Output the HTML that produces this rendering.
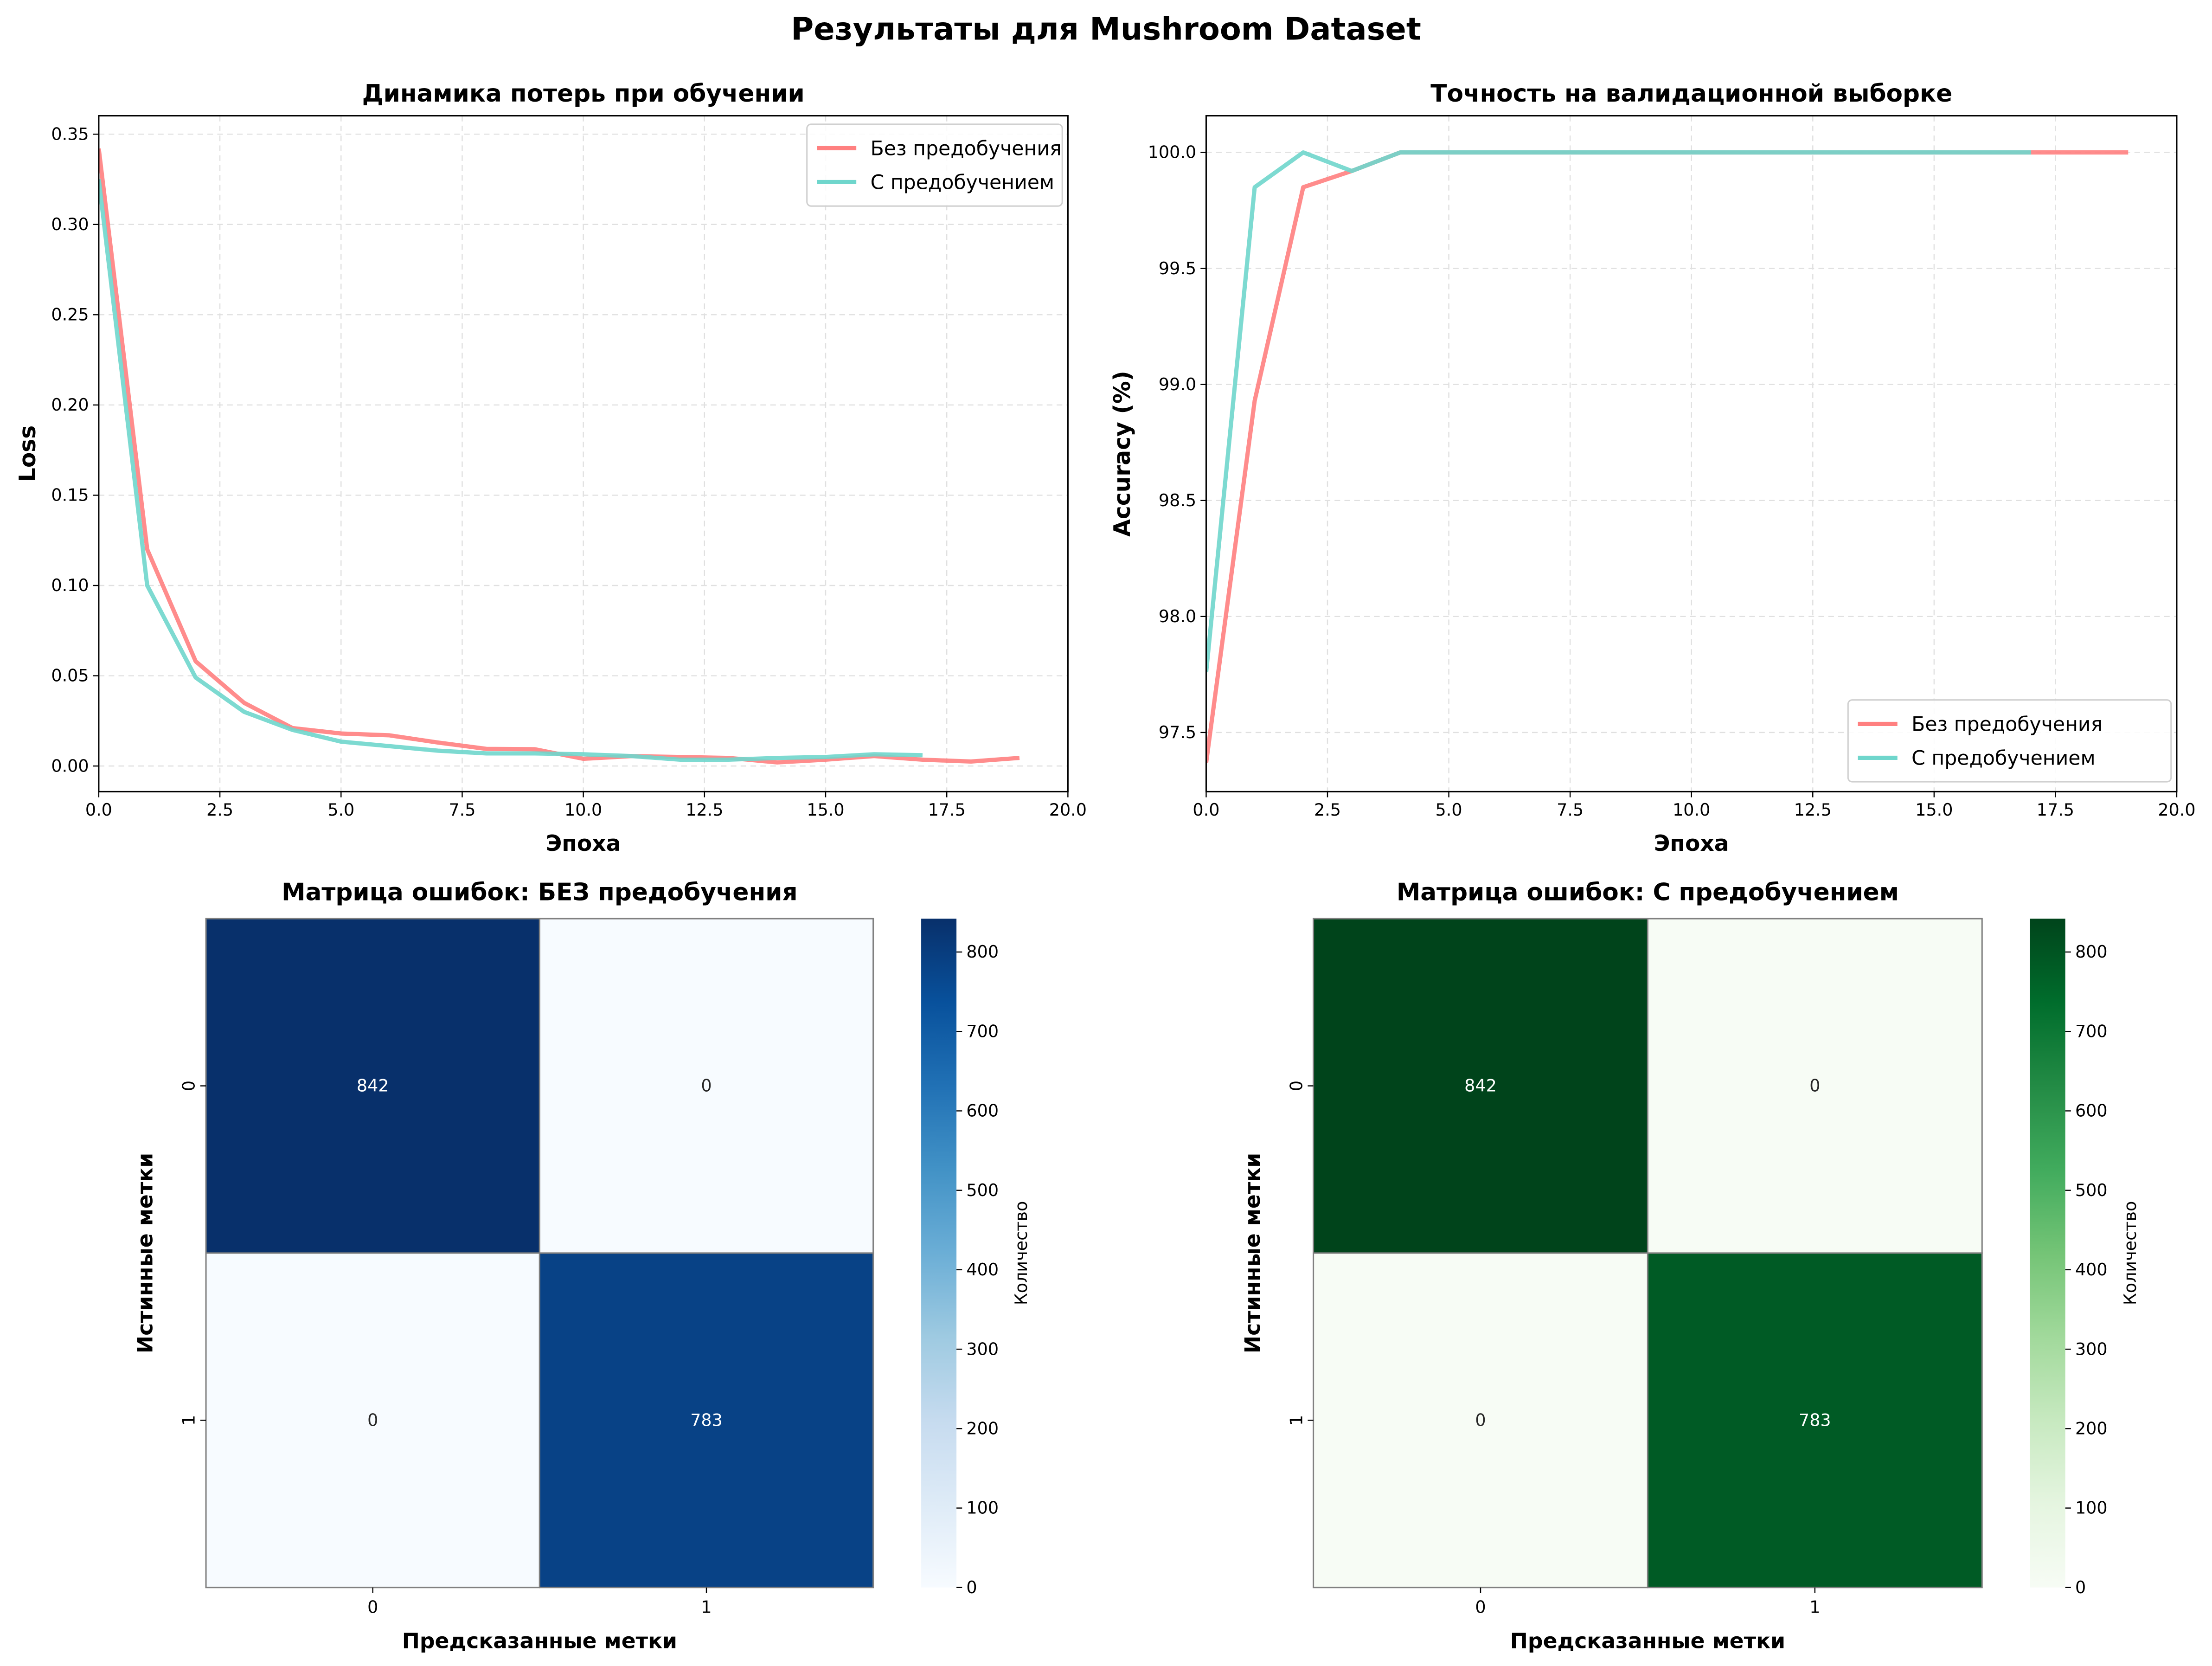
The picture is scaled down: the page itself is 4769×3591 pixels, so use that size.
<!DOCTYPE html>
<html><head><meta charset="utf-8"><style>
html,body{margin:0;padding:0;background:#fff}
svg{display:block;font-family:"DejaVu Sans","Liberation Sans",sans-serif}
</style></head><body>
<svg id="fig" width="4769" height="3591" viewBox="0 0 1568 1180.6" xmlns="http://www.w3.org/2000/svg">
<defs>
<linearGradient id="gBlues" x1="0" y1="1" x2="0" y2="0">
<stop offset="0" stop-color="#f7fbff"/><stop offset="0.125" stop-color="#deebf7"/><stop offset="0.25" stop-color="#c6dbef"/><stop offset="0.375" stop-color="#9ecae1"/><stop offset="0.5" stop-color="#6baed6"/><stop offset="0.625" stop-color="#4292c6"/><stop offset="0.75" stop-color="#2171b5"/><stop offset="0.875" stop-color="#08519c"/><stop offset="1" stop-color="#08306b"/>
</linearGradient>
<linearGradient id="gGreens" x1="0" y1="1" x2="0" y2="0">
<stop offset="0" stop-color="#f7fcf5"/><stop offset="0.125" stop-color="#e5f5e0"/><stop offset="0.25" stop-color="#c7e9c0"/><stop offset="0.375" stop-color="#a1d99b"/><stop offset="0.5" stop-color="#74c476"/><stop offset="0.625" stop-color="#41ab5d"/><stop offset="0.75" stop-color="#238b45"/><stop offset="0.875" stop-color="#006d2c"/><stop offset="1" stop-color="#00441b"/>
</linearGradient>
</defs>
<text x="784" y="28" text-anchor="middle" font-size="22" font-weight="bold">Результаты для Mushroom Dataset</text>
</svg>
<script>
const epochsLossRed=[0,1,2,3,4,5,6,7,8,9,10,11,12,13,14,15,16,17,18,19];
const lossRed=[0.342,0.12,0.058,0.035,0.021,0.018,0.017,0.013,0.0095,0.0093,0.004,0.0055,0.005,0.0045,0.002,0.0035,0.0055,0.0035,0.0025,0.0045];
const epochsTeal=[0,1,2,3,4,5,6,7,8,9,10,11,12,13,14,15,16,17];
const lossTeal=[0.325,0.10,0.049,0.030,0.020,0.0135,0.011,0.0085,0.007,0.007,0.0065,0.0055,0.0035,0.0035,0.0045,0.005,0.0065,0.006];
const accRed=[97.37,98.93,99.85,99.92,100,100,100,100,100,100,100,100,100,100,100,100,100,100,100,100];
const accTeal=[97.76,99.85,100,99.92,100,100,100,100,100,100,100,100,100,100,100,100,100,100];
const xTicks=[0,2.5,5,7.5,10,12.5,15,17.5,20];
const xTickLabels=["0.0","2.5","5.0","7.5","10.0","12.5","15.0","17.5","20.0"];
const lossTicks=[0,0.05,0.1,0.15,0.2,0.25,0.3,0.35];
const lossTickLabels=["0.00","0.05","0.10","0.15","0.20","0.25","0.30","0.35"];
const accTicks=[97.5,98,98.5,99,99.5,100];
const accTickLabels=["97.5","98.0","98.5","99.0","99.5","100.0"];
const cmNo=[[842,0],[0,783]];
const cmYes=[[842,0],[0,783]];
const cbTicks=[0,100,200,300,400,500,600,700,800];
const classLabels=["0","1"];

const svg=document.getElementById('fig');
const NS="http://www.w3.org/2000/svg";
function el(tag,attrs,parent,text){const e=document.createElementNS(NS,tag);for(const k in attrs)e.setAttribute(k,attrs[k]);if(text!==undefined)e.textContent=text;(parent||svg).appendChild(e);return e;}
const RED="#ff8080",TEAL="#6fd6cc";

function linePanel(cfg){
  const g=el('g',{});
  
  
  const {x0,x1,y0,y1,xmin,xmax,ymin,ymax}=cfg;
  const sx=v=>x0+(v-xmin)/(xmax-xmin)*(x1-x0);
  const sy=v=>y1-(v-ymin)/(ymax-ymin)*(y1-y0);
  xTicks.forEach((t,i)=>{
    const gl=el('line',{x1:sx(t),x2:sx(t),y1:y0,y2:y1,stroke:"#e0e0e0","stroke-width":0.8,"stroke-dasharray":"4,3"},g);
    
    
    el('line',{x1:sx(t),x2:sx(t),y1:y1,y2:y1+4,stroke:"#000","stroke-width":0.8},g);
    const tl=el('text',{x:sx(t),y:y1+17,"text-anchor":"middle","font-size":12},g,xTickLabels[i]);
    
    
  });
  cfg.yTicks.forEach((t,i)=>{
    const gl=el('line',{x1:x0,x2:x1,y1:sy(t),y2:sy(t),stroke:"#e0e0e0","stroke-width":0.8,"stroke-dasharray":"4,3"},g);
    
    
    el('line',{x1:x0-4,x2:x0,y1:sy(t),y2:sy(t),stroke:"#000","stroke-width":0.8},g);
    const tl=el('text',{x:x0-7,y:sy(t)+4,"text-anchor":"end","font-size":12},g,cfg.yTickLabels[i]);
    
    
  });
  const clip='clip'+cfg.name;
  const cp=el('clipPath',{id:clip},g);el('rect',{x:x0,y:y0,width:x1-x0,height:y1-y0},cp);
  cfg.series.forEach(s=>{
    const d=s.x.map((v,i)=>(i?'L':'M')+sx(v).toFixed(2)+','+sy(s.y[i]).toFixed(2)).join(' ');
    const p=el('path',{d,fill:"none",stroke:s.color,"stroke-width":3,"stroke-opacity":0.9,"stroke-linejoin":"round","clip-path":`url(#${clip})`},g);
    
    
  });
  const fr=el('rect',{x:x0,y:y0,width:x1-x0,height:y1-y0,fill:"none",stroke:"#000","stroke-width":1},g);
  
  
  const t=el('text',{x:(x0+x1)/2,y:y0-10,"text-anchor":"middle","font-size":17,"font-weight":"bold"},g,cfg.title);
  
  
  const xl=el('text',{x:(x0+x1)/2,y:y1+42,"text-anchor":"middle","font-size":15.5,"font-weight":"bold"},g,"Эпоха");
  
  
  const yl=el('text',{x:0,y:0,"text-anchor":"middle","font-size":16,"font-weight":"bold",transform:`translate(${cfg.ylx},${(y0+y1)/2}) rotate(-90)`},g,cfg.ylabel);
  
  
  const L=cfg.legend;
  const lg=el('g',{},g);
  
  
  el('rect',{x:L.x,y:L.y,width:L.w,height:58,rx:3,fill:"#fff","fill-opacity":0.85,stroke:"#d0d0d0","stroke-width":1},lg);
  cfg.series.forEach((s,i)=>{
    const ey=L.y+17+i*24;
    const le=el('g',{},lg);
    
    
    el('line',{x1:L.x+7,x2:L.x+35,y1:ey,y2:ey,stroke:s.color,"stroke-width":3},le);
    el('text',{x:L.x+45,y:ey+5,"font-size":14},le,s.label);
  });
}

linePanel({name:'loss-panel',x0:70,x1:757,y0:82,y1:561,xmin:0,xmax:20,ymin:-0.0142,ymax:0.3602,
  yTicks:lossTicks,yTickLabels:lossTickLabels,title:"Динамика потерь при обучении",ylabel:"Loss",ylx:25,
  legend:{x:572,y:88,w:181},
  series:[{name:'loss-line-no-pretrain',x:epochsLossRed,y:lossRed,color:RED,label:"Без предобучения"},
          {name:'loss-line-pretrain',x:epochsTeal,y:lossTeal,color:TEAL,label:"С предобучением"}]});
linePanel({name:'accuracy-panel',x0:855,x1:1543,y0:82,y1:561,xmin:0,xmax:20,ymin:97.245,ymax:100.158,
  yTicks:accTicks,yTickLabels:accTickLabels,title:"Точность на валидационной выборке",ylabel:"Accuracy (%)",ylx:801,
  legend:{x:1310,y:496,w:229},
  series:[{name:'acc-line-no-pretrain',x:epochsLossRed,y:accRed,color:RED,label:"Без предобучения"},
          {name:'acc-line-pretrain',x:epochsTeal,y:accTeal,color:TEAL,label:"С предобучением"}]});

function interp(stops,t){
  const n=stops.length-1;const p=Math.min(n-1e-9,Math.max(0,t*n));const i=Math.floor(p),f=p-i;
  const a=stops[i],b=stops[i+1];
  const h=s=>[1,3,5].map(k=>parseInt(s.substr(k,2),16));
  const A=h(a),B=h(b);return 'rgb('+A.map((v,k)=>Math.round(v+(B[k]-v)*f)).join(',')+')';
}
const BLUES=["#f7fbff","#deebf7","#c6dbef","#9ecae1","#6baed6","#4292c6","#2171b5","#08519c","#08306b"];
const GREENS=["#f7fcf5","#e5f5e0","#c7e9c0","#a1d99b","#74c476","#41ab5d","#238b45","#006d2c","#00441b"];

function heatPanel(cfg){
  const g=el('g',{});
  
  
  const {x0,x1,y0,y1,cm,stops,grad}=cfg;
  let vmax=0;cm.forEach(r=>r.forEach(v=>vmax=Math.max(vmax,v)));
  const cw=(x1-x0)/cm[0].length,ch=(y1-y0)/cm.length;
  cm.forEach((row,r)=>row.forEach((v,c)=>{
    const t=v/vmax;
    const cell=el('rect',{x:x0+c*cw,y:y0+r*ch,width:cw,height:ch,fill:interp(stops,t),stroke:"#808080","stroke-width":1},g);
    
    
    const tx=el('text',{x:x0+(c+0.5)*cw,y:y0+(r+0.5)*ch+4,"text-anchor":"middle","font-size":12,fill:t>0.5?"#fff":"#262626"},g,String(v));
    
    
  }));
  classLabels.forEach((lab,i)=>{
    const cx=x0+(i+0.5)*cw,cy=y0+(i+0.5)*ch;
    el('line',{x1:cx,x2:cx,y1:y1,y2:y1+4,stroke:"#000","stroke-width":0.8},g);
    const a=el('text',{x:cx,y:y1+18,"text-anchor":"middle","font-size":12},g,lab);
    
    
    el('line',{x1:x0-4,x2:x0,y1:cy,y2:cy,stroke:"#000","stroke-width":0.8},g);
    const b=el('text',{x:0,y:0,"text-anchor":"middle","font-size":12,transform:`translate(${x0-8},${cy}) rotate(-90)`},g,lab);
    
    
  });
  const t=el('text',{x:(x0+x1)/2,y:y0-13,"text-anchor":"middle","font-size":17,"font-weight":"bold"},g,cfg.title);
  
  
  const xl=el('text',{x:(x0+x1)/2,y:y1+43,"text-anchor":"middle","font-size":15,"font-weight":"bold"},g,"Предсказанные метки");
  
  
  const yl=el('text',{x:0,y:0,"text-anchor":"middle","font-size":15,"font-weight":"bold",transform:`translate(${x0-38},${(y0+y1)/2}) rotate(-90)`},g,"Истинные метки");
  
  
  const cb=el('g',{},g);
  
  
  const bx=cfg.cbx,bw=25;
  el('rect',{x:bx,y:y0,width:bw,height:y1-y0,fill:`url(#${grad})`},cb);
  const cy=v=>y1-v/vmax*(y1-y0);
  cbTicks.forEach(v=>{
    el('line',{x1:bx+bw,x2:bx+bw+4,y1:cy(v),y2:cy(v),stroke:"#000","stroke-width":0.8},cb);
    const tl=el('text',{x:bx+bw+7,y:cy(v)+4,"font-size":12},cb,String(v));
    
    
  });
  const cl=el('text',{x:0,y:0,"text-anchor":"middle","font-size":12,transform:`translate(${bx+bw+50},${(y0+y1)/2}) rotate(-90)`},cb,"Количество");
  
  
}
heatPanel({name:'confusion-matrix-no-pretrain',x0:146,x1:619,y0:651,y1:1125,cm:cmNo,stops:BLUES,grad:'gBlues',cbx:653,title:"Матрица ошибок: БЕЗ предобучения"});
heatPanel({name:'confusion-matrix-pretrain',x0:931,x1:1405,y0:651,y1:1125,cm:cmYes,stops:GREENS,grad:'gGreens',cbx:1439,title:"Матрица ошибок: С предобучением"});
</script>
</body></html>
